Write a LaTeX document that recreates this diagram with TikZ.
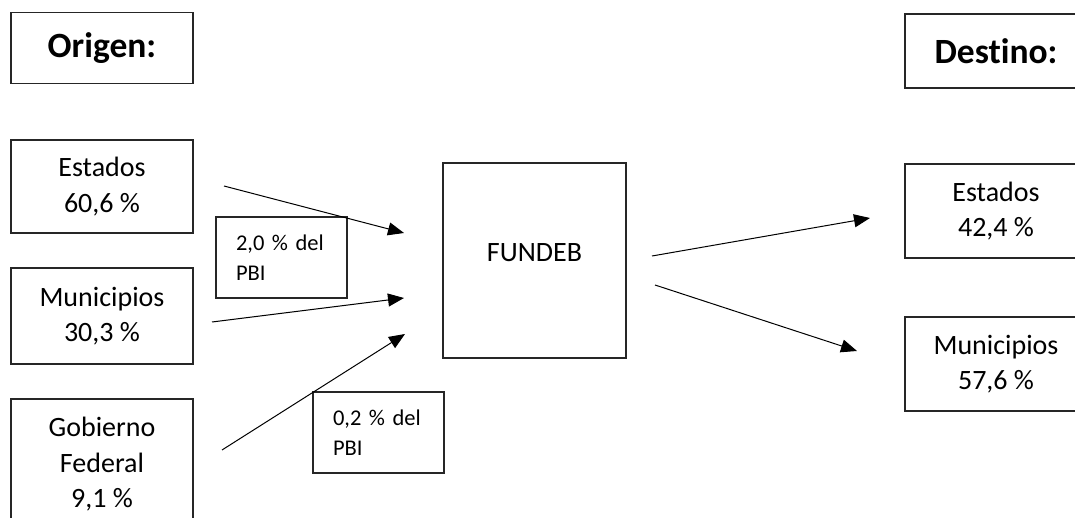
\documentclass[tikz,border=0pt]{standalone}
\usepackage{fontspec}
\setmainfont{Carlito}[Ligatures=NoCommon]
\usetikzlibrary{arrows.meta}
\tikzset{
  box/.style={draw=black!85, line width=1.2pt, fill=white, inner sep=0pt, align=center,
    font=\fontsize{28}{35.5}\selectfont},
  head/.style={box, font=\bfseries\fontsize{35.5}{42}\selectfont},
  note/.style={draw=black!85, line width=1.2pt, fill=white, inner sep=0pt, align=left,
    text width=91pt, font=\fontsize{22.5}{30}\selectfont},
  flow/.style={line width=1pt, -{Triangle[length=16pt,width=13pt]}}
}
\begin{document}
\begin{tikzpicture}[x=1pt,y=-1pt]
\useasboundingbox (0,0) rectangle (1075,518);
\clip (0,0) rectangle (1075,518);
\fill[white] (0,0) rectangle (1075,518);
% left column
\node[head, minimum width=182pt, minimum height=71pt] (origen) at (102,48.4) {Origen:};
\node[box, minimum width=182pt, minimum height=93pt] (lest) at (102,186.5) {Estados\\60,6 \%};
\node[box, minimum width=182pt, minimum height=96pt] (lmun) at (102,316) {Municipios\\30,3 \%};
\node[box, minimum width=182pt, minimum height=131pt] (lgob) at (102,464.5) {Gobierno\\Federal\\9,1 \%};
% notes
\node[note, minimum width=131pt, minimum height=81pt] (p1) at (281.5,257.5) {2,0 \% del\\PBI};
\node[note, minimum width=131pt, minimum height=81pt] (p2) at (378.5,432.5) {0,2 \% del\\PBI};
% centre
\node[box, minimum width=183pt, minimum height=195pt, text height=18pt, text depth=16pt] (fundeb) at (534.5,260.5) {FUNDEB};
% right column
\node[head, minimum width=182pt, minimum height=74pt] (destino) at (996,51) {Destino:};
\node[box, minimum width=182pt, minimum height=94pt] (rest) at (996,211) {Estados\\42,4 \%};
\node[box, minimum width=182pt, minimum height=94pt] (rmun) at (996,364) {Municipios\\57,6 \%};
% arrow end points
\coordinate (a1s) at (224,186);
\coordinate (a1e) at (404,233);
\coordinate (a2s) at (212,322);
\coordinate (a2e) at (404,298);
\coordinate (a3s) at (222,450);
\coordinate (a3e) at (405,334);
\coordinate (b1s) at (652,256);
\coordinate (b1e) at (870,218);
\coordinate (b2s) at (655,285);
\coordinate (b2e) at (857,351);
\draw[flow] (a1s) -- (a1e);
\draw[flow] (a2s) -- (a2e);
\draw[flow] (a3s) -- (a3e);
\draw[flow] (b1s) -- (b1e);
\draw[flow] (b2s) -- (b2e);
\end{tikzpicture}
\end{document}
